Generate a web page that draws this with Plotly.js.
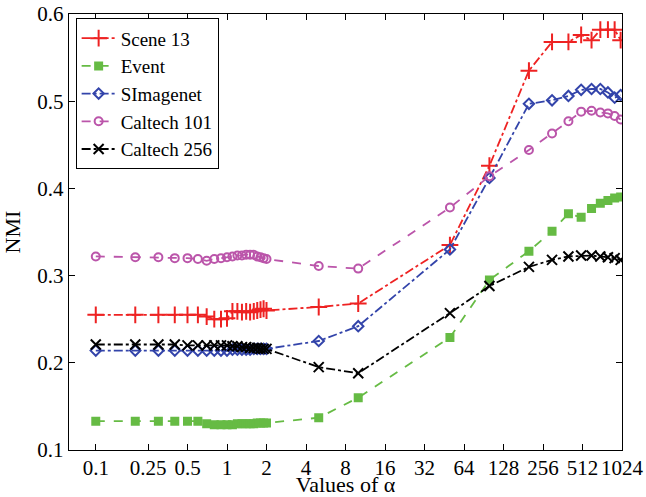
<!DOCTYPE html>
<html>
<head>
<meta charset="utf-8">
<script src="https://cdn.plot.ly/plotly-3.0.1.min.js"></script>
<style>html,body{margin:0;padding:0;background:#fff}#chart{width:646px;height:497px}</style>
</head>
<body>
<div id="chart"></div>
<script>
// alpha values
const alphas = [0.1,0.2,0.3,0.4,0.5,0.6,0.7,0.8,0.9,1.0,
                1.1,1.2,1.3,1.4,1.5,1.6,1.7,1.8,1.9,2.0,
                5,10,50,100,200,300,400,500,600,700,800,900,1000];
const tickVals = [0.1,0.25,0.5,1,2,4,8,16,32,64,128,256,512,1024];
const tickText = ['0.1','0.25','0.5','1','2','4','8','16','32','64','128','256','512','1024'];

const scene13 = [0.255,0.255,0.255,0.255,0.255,0.255,0.253,0.250,0.250,0.251,
                 0.259,0.259,0.258,0.259,0.258,0.259,0.260,0.261,0.262,0.260,
                 0.264,0.268,0.335,0.426,0.535,0.568,0.568,0.576,0.570,0.582,0.582,0.582,0.570];
const event = [0.133,0.133,0.133,0.133,0.133,0.133,0.130,0.129,0.129,0.129,
               0.129,0.130,0.130,0.130,0.130,0.130,0.131,0.131,0.131,0.131,
               0.137,0.160,0.229,0.295,0.328,0.351,0.371,0.367,0.377,0.383,0.386,0.389,0.390];
const simagenet = [0.214,0.214,0.214,0.214,0.214,0.214,0.214,0.214,0.214,0.214,
                   0.215,0.215,0.215,0.215,0.215,0.216,0.216,0.216,0.216,0.216,
                   0.225,0.242,0.330,0.412,0.497,0.501,0.506,0.513,0.514,0.514,0.510,0.504,0.507];
const caltech101 = [0.322,0.321,0.321,0.320,0.320,0.319,0.317,0.319,0.320,0.321,
                    0.322,0.323,0.323,0.324,0.324,0.324,0.322,0.321,0.320,0.319,
                    0.311,0.308,0.378,0.414,0.444,0.463,0.477,0.488,0.489,0.487,0.486,0.483,0.479];
const caltech256 = [0.221,0.221,0.221,0.221,0.220,0.220,0.220,0.220,0.220,0.220,
                    0.219,0.219,0.218,0.218,0.217,0.217,0.217,0.216,0.216,0.216,
                    0.195,0.188,0.257,0.288,0.310,0.318,0.322,0.323,0.323,0.322,0.321,0.320,0.318];

const names = ['Scene 13','Event','SImagenet','Caltech 101','Caltech 256'];
const colors = ['#ee2222','#66bb44','#3344aa','#bb55aa','#000000'];
const dashes = ['dashdot','dash','dashdot','dash','dashdot'];
const symbols = ['cross-thin-open','square','diamond-open','circle-open','x-thin-open'];
const sizes = [12,7,8,8,10];
const series = [scene13,event,simagenet,caltech101,caltech256];

const traces = series.map((ys,i)=>({
  x: alphas, y: ys, name: names[i], type:'scatter', mode:'lines+markers',
  line:{color:colors[i], width:1.8, dash:dashes[i]},
  marker:{symbol:symbols[i], size:sizes[i], color:colors[i],
          line:{color:colors[i], width:2}}
}));

const family = 'Liberation Serif, Times New Roman, serif';
const font = {family:family, size:21, color:'#000'};
const titleFont = {family:family, size:22, color:'#000'};
const legendFont = {family:family, size:19, color:'#000'};
const layout = {
  width:646, height:497,
  margin:{l:69, r:24, t:14, b:47},
  paper_bgcolor:'#fff', plot_bgcolor:'#fff',
  font: font,
  showlegend:true,
  legend:{x:0.012, y:0.99, xanchor:'left', yanchor:'top', itemwidth:34,
          bgcolor:'#fff', bordercolor:'#000', borderwidth:1, font:legendFont},
  xaxis:{type:'log', range:[Math.log10(1/16), Math.log10(1024)],
         tickvals:tickVals, ticktext:tickText, ticks:'inside', ticklen:6,
         tickcolor:'#000', showline:true, linecolor:'#000', linewidth:1.3,
         mirror:'ticks', showgrid:false, zeroline:false, ticklabelstandoff:-2,
         title:{text:'Values of α', font:titleFont}},
  yaxis:{range:[0.1,0.6], tickvals:[0.1,0.2,0.3,0.4,0.5,0.6],
         ticktext:['0.1','0.2','0.3','0.4','0.5','0.6'],
         ticks:'inside', ticklen:6, tickcolor:'#000',
         showline:true, linecolor:'#000', linewidth:1.3, mirror:'ticks',
         showgrid:false, zeroline:false,
         title:{text:'NMI', font:titleFont}}
};
Plotly.newPlot('chart', traces, layout, {displayModeBar:false, staticPlot:true});
</script>
</body>
</html>
